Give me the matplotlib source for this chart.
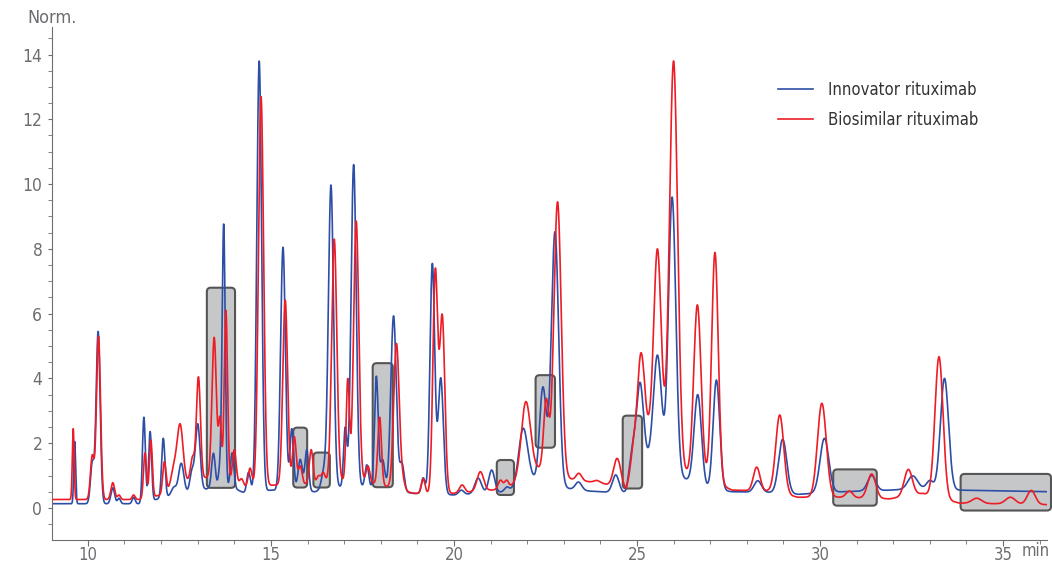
import matplotlib
matplotlib.use("Agg")
import matplotlib.pyplot as plt
import numpy as np
from matplotlib.patches import FancyBboxPatch

plt.rcParams['font.family'] = ['DejaVu Sans']
plt.rcParams['font.stretch'] = 'condensed'

# peak tables: retention time (min), apex height (Norm.), width (sigma, min)
inno_rt = [9.64, 10.12, 10.28, 10.68, 10.85, 11.25, 11.53, 11.70, 12.06, 12.35, 12.55, 12.84, 13.00,
           13.43, 13.61, 13.71, 13.94, 14.39, 14.57, 14.68, 15.33, 15.57, 15.80, 15.98, 16.45, 16.64,
           17.03, 17.26, 17.62, 17.88, 18.05, 18.35, 18.58, 19.16, 19.41, 19.64, 20.20, 20.66, 21.03,
           21.45, 21.89, 22.43, 22.76, 23.40, 24.42, 24.88, 25.08, 25.56, 25.96, 26.66, 27.17, 28.30,
           28.98, 30.12, 31.41, 32.53, 33.00, 33.40]
inno_h = [2.05, 1.45, 5.45, 0.62, 0.30, 0.33, 2.80, 2.36, 2.15, 0.65, 1.38, 1.20, 2.60,
          1.69, 1.69, 8.77, 1.70, 1.10, 1.20, 13.80, 8.05, 2.45, 1.50, 1.80, 1.35, 9.97,
          2.50, 10.60, 1.33, 4.07, 1.50, 5.93, 1.40, 0.93, 7.55, 4.02, 0.55, 0.92, 1.17,
          0.65, 2.46, 3.74, 8.53, 0.80, 1.02, 2.00, 3.88, 4.72, 9.60, 3.50, 3.95, 0.84,
          2.12, 2.15, 1.00, 0.99, 0.85, 4.00]
inno_w = [0.025, 0.05, 0.055, 0.05, 0.04, 0.04, 0.04, 0.04, 0.045, 0.07, 0.07, 0.055, 0.065,
          0.05, 0.045, 0.042, 0.05, 0.05, 0.04, 0.065, 0.065, 0.05, 0.06, 0.05, 0.07, 0.07,
          0.045, 0.07, 0.05, 0.05, 0.06, 0.075, 0.06, 0.05, 0.065, 0.07, 0.07, 0.09, 0.08,
          0.07, 0.12, 0.09, 0.10, 0.09, 0.09, 0.09, 0.09, 0.11, 0.10, 0.10, 0.09, 0.10,
          0.11, 0.12, 0.11, 0.13, 0.09, 0.11]

bios_rt = [9.60, 10.12, 10.29, 10.68, 10.85, 11.25, 11.56, 11.72, 12.09, 12.35, 12.52, 12.86, 13.02,
           13.45, 13.61, 13.77, 14.00, 14.20, 14.43, 14.73, 15.39, 15.64, 15.80, 16.10, 16.30, 16.43,
           16.73, 17.10, 17.33, 17.65, 17.97, 18.43, 18.60, 19.16, 19.49, 19.68, 20.22, 20.72, 21.27,
           21.44, 21.96, 22.52, 22.83, 23.41, 23.90, 24.46, 24.90, 25.10, 25.56, 26.00, 26.65, 27.13,
           28.27, 28.90, 30.05, 30.80, 31.41, 32.41, 33.25, 34.28, 35.20, 35.77]
bios_h = [2.45, 1.64, 5.30, 0.78, 0.40, 0.40, 1.70, 2.10, 1.43, 1.40, 2.60, 1.60, 4.05,
          5.27, 2.82, 6.10, 1.80, 0.90, 1.23, 12.70, 6.42, 2.20, 1.30, 1.80, 1.00, 1.10,
          8.30, 4.00, 8.86, 1.30, 2.80, 5.08, 1.15, 0.90, 7.40, 5.98, 0.71, 1.12, 0.86,
          0.86, 3.28, 3.38, 9.45, 1.07, 0.85, 1.53, 2.10, 4.77, 8.00, 13.80, 6.27, 7.89,
          1.26, 2.87, 3.23, 0.52, 1.05, 1.19, 4.67, 0.30, 0.33, 0.54]
bios_w = [0.025, 0.05, 0.055, 0.05, 0.04, 0.04, 0.04, 0.04, 0.045, 0.08, 0.08, 0.055, 0.055,
          0.06, 0.04, 0.045, 0.05, 0.05, 0.05, 0.07, 0.065, 0.05, 0.05, 0.05, 0.05, 0.05,
          0.07, 0.045, 0.07, 0.05, 0.05, 0.075, 0.06, 0.05, 0.065, 0.07, 0.07, 0.09, 0.06,
          0.06, 0.12, 0.07, 0.10, 0.08, 0.07, 0.10, 0.07, 0.09, 0.10, 0.11, 0.10, 0.09,
          0.09, 0.11, 0.12, 0.09, 0.11, 0.11, 0.11, 0.13, 0.13, 0.11]

# baseline levels read between peaks
base_t = [9.0, 11.4, 12.0, 12.8, 13.3, 14.1, 14.3, 15.0, 16.2, 16.9, 17.5, 18.9, 20.0, 21.5,
          22.1, 23.3, 24.0, 24.7, 25.2, 25.8, 26.3, 26.9, 27.6, 28.6, 29.4, 30.6, 31.9, 32.8,
          33.8, 36.3]
inno_base = [0.13, 0.13, 0.30, 0.50, 0.60, 0.55, 0.45, 0.55, 0.50, 0.65, 0.65, 0.45, 0.40, 0.50,
             0.90, 0.55, 0.50, 0.45, 1.60, 1.20, 0.90, 0.60, 0.50, 0.48, 0.42, 0.50, 0.55, 0.60,
             0.55, 0.50]
bios_base = [0.26, 0.26, 0.40, 0.85, 0.95, 0.75, 0.65, 0.70, 0.75, 0.85, 0.85, 0.45, 0.45, 0.60,
             1.30, 0.85, 0.78, 0.55, 2.60, 1.80, 1.10, 0.90, 0.55, 0.52, 0.33, 0.33, 0.28, 0.45,
             0.15, 0.10]

# highlighted regions: (t start, t end, y low, y high)
box_t0 = [13.25, 15.61, 16.16, 17.78, 21.17, 22.23, 24.61, 30.36, 33.84]
box_t1 = [14.02, 15.99, 16.61, 18.33, 21.64, 22.76, 25.14, 31.55, 36.31]
box_y0 = [0.62, 0.63, 0.63, 0.64, 0.40, 1.86, 0.60, 0.07, -0.08]
box_y1 = [6.80, 2.48, 1.71, 4.47, 1.48, 4.10, 2.85, 1.19, 1.05]


def trace(t, rt, h, w, bt, bv):
    rt, h, w = np.array(rt), np.array(h), np.array(w)
    G = np.exp(-0.5 * ((rt[:, None] - rt[None, :]) / w[None, :]) ** 2)
    target = h - np.interp(rt, bt, bv)
    amp = np.clip(target, 0, None)
    for _ in range(300):
        for i in range(len(rt)):
            amp[i] = max(0.0, target[i] - (G[i] @ amp - amp[i]))
    peaks = amp[None, :] * np.exp(-0.5 * ((t[:, None] - rt[None, :]) / w[None, :]) ** 2)
    return np.interp(t, bt, bv) + peaks.sum(1)


t = np.linspace(9.0, 36.2, 6000)
inno = trace(t, inno_rt, inno_h, inno_w, base_t, inno_base)
bios = trace(t, bios_rt, bios_h, bios_w, base_t, bios_base)

grey = '#6d6e71'
fig = plt.figure(figsize=(10.52, 5.64), dpi=100)
ax = fig.add_axes([52 / 1052, 24 / 564, 995 / 1052, 513 / 564])

for x0, x1, y0, y1 in zip(box_t0, box_t1, box_y0, box_y1):
    ax.add_patch(FancyBboxPatch((x0, y0), x1 - x0, y1 - y0,
                                boxstyle="round,pad=0,rounding_size=0.11", mutation_aspect=1.13,
                                fc='#c6c7c9', ec='#555555', lw=1.5, zorder=1, clip_on=False))

ax.plot(t, inno, color='#2d4ea6', lw=1.2, label='Innovator rituximab', zorder=2)
ax.plot(t, bios, color='#ee1c25', lw=1.2, label='Biosimilar rituximab', zorder=3)

ax.set_xlim(9.02, 36.2)
ax.set_ylim(-0.99, 14.85)
ax.set_xticks([10, 15, 20, 25, 30, 35])
ax.set_xticks(np.arange(10, 37, 1), minor=True)
ax.set_yticks(np.arange(0, 15, 2))
ax.set_yticks(np.arange(-0.5, 15, 0.5), minor=True)
for s in ['top', 'right']:
    ax.spines[s].set_visible(False)
for s in ['left', 'bottom']:
    ax.spines[s].set_color(grey)
ax.tick_params(which='both', colors=grey, labelsize=12.5, direction='out')
ax.tick_params(axis='x', which='major', length=4, pad=0, labelsize=12)
ax.tick_params(axis='x', which='minor', length=3)
ax.tick_params(axis='y', which='both', length=3, pad=4)

fig.text(27 / 1052, 1 - 18 / 564, 'Norm.', color=grey, fontsize=13, va='center', ha='left')
fig.text(1022 / 1052, 1 - 551 / 564, 'min', color=grey, fontsize=12, va='center', ha='left')

leg = ax.legend(loc='center left', bbox_to_anchor=(711 / 995, (540 - 105) / 513), frameon=False,
                fontsize=12, handlelength=2.1, handletextpad=0.9, labelspacing=0.75)
for txt in leg.get_texts():
    txt.set_color('#333333')

fig.savefig('out.png', dpi=100)
